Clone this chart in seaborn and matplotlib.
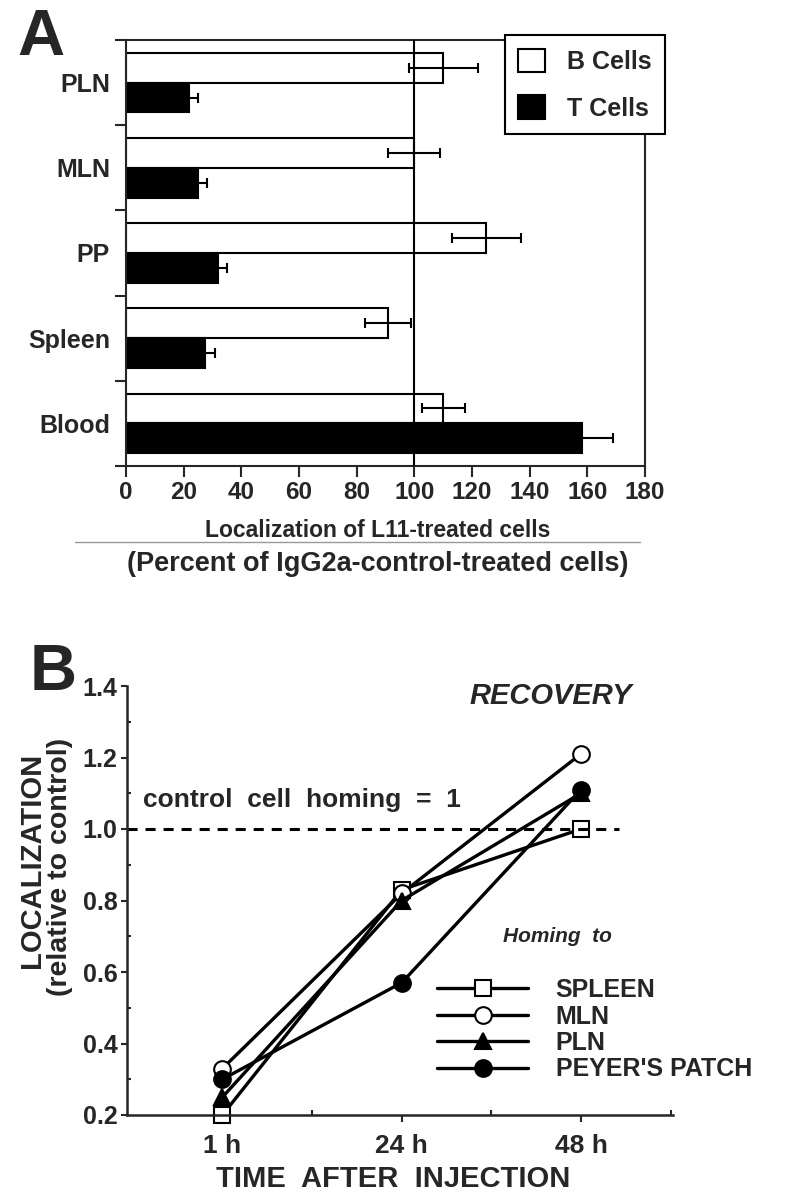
import numpy as np
import pandas as pd
import matplotlib.pyplot as plt
import seaborn as sns
from matplotlib.patches import Patch
from matplotlib.lines import Line2D

# panel A - localization of L11-treated cells (% of IgG2a control)
tissues = ['PLN', 'MLN', 'PP', 'Spleen', 'Blood']
cell_types = ['B Cells', 'T Cells']
b_cells = [110, 100, 125, 91, 110]
b_err = [12, 9, 12, 8, 7.5]
t_cells = [22, 25, 32, 27.5, 158]
t_err = [3, 3, 3, 3.5, 11]
xticks_a = list(range(0, 181, 20))

# panel B - recovery after injection
times = ['1 h', '24 h', '48 h']
homing_names = ['SPLEEN', 'MLN', 'PLN', "PEYER'S PATCH"]
spleen = [0.20, 0.83, 1.00]
mln = [0.33, 0.82, 1.21]
pln = [0.25, 0.80, 1.10]
peyers = [0.30, 0.57, 1.11]
control_level = 1.0
yticks_b = [0.2, 0.4, 0.6, 0.8, 1.0, 1.2, 1.4]

sns.set_style("ticks")
plt.rcParams['font.family'] = ['Liberation Sans', 'DejaVu Sans']
plt.rcParams['font.weight'] = 'bold'

W, H = 796, 1200
fig = plt.figure(figsize=(W / 100, H / 100), dpi=100)


def px_axes(l, t, r, b):
    return fig.add_axes([l / W, 1 - b / H, (r - l) / W, (b - t) / H])


# ---------------- panel A ----------------
axA = px_axes(126, 40, 645, 466)
dfA = pd.DataFrame({
    'tissue': tissues * 2,
    'cell': [cell_types[0]] * len(tissues) + [cell_types[1]] * len(tissues),
    'value': b_cells + t_cells,
})
sns.barplot(data=dfA, x='value', y='tissue', hue='cell', order=tissues,
            hue_order=cell_types, palette={'B Cells': 'white', 'T Cells': 'black'},
            edgecolor='black', linewidth=1.5, width=0.7, errorbar=None,
            saturation=1, legend=False, orient='h', ax=axA)

for container, errs in zip(axA.containers, [b_err, t_err]):
    xs, ys, es = [], [], []
    for bar in container:
        yc = bar.get_y() + bar.get_height() / 2
        xs.append(bar.get_width())
        ys.append(yc)
        es.append(errs[int(round(yc))])
    axA.errorbar(xs, ys, xerr=es, fmt='none', ecolor='black', elinewidth=1.5,
                 capsize=3.6, capthick=1.5, zorder=4)

axA.axvline(100, color='black', lw=1.5, zorder=3)
axA.set_xlim(0, 180)
axA.set_ylim(len(tissues) - 0.5, -0.5)
axA.set_xticks(xticks_a)
axA.set_xticklabels([str(v) for v in xticks_a])
axA.set_yticks(range(len(tissues)))
axA.set_yticklabels(tissues)
axA.set_yticks(np.arange(-0.5, len(tissues)), minor=True)
axA.tick_params(axis='x', which='major', direction='out', length=8, width=1.5, pad=3, labelsize=17.5)
axA.tick_params(axis='y', which='major', length=0, pad=11.5, labelsize=18)
axA.tick_params(axis='y', which='minor', direction='out', length=8, width=1.5)
axA.set_xlabel('')
axA.set_ylabel('')
for sp in axA.spines.values():
    sp.set_visible(True)
    sp.set_linewidth(1.5)

handlesA = [Patch(facecolor='white', edgecolor='black', lw=1.5),
            Patch(facecolor='black', edgecolor='black', lw=1.5)]
legA = axA.legend(handlesA, cell_types, loc='upper right',
                  bbox_to_anchor=(665 / W, 1 - 35 / H), bbox_transform=fig.transFigure,
                  borderaxespad=0, frameon=True, fancybox=False, framealpha=1,
                  edgecolor='black', prop={'size': 18, 'weight': 'bold'},
                  handlelength=1.08, handleheight=1.08, handletextpad=0.85,
                  labelspacing=0.85, borderpad=0.55)
legA.get_frame().set_linewidth(1.5)
legA.set_zorder(10)

fig.text(17 / W, 1 - 55 / H, 'A', fontsize=47, fontweight='bold', va='baseline')
fig.text(378 / W, 1 - 537 / H, 'Localization of L11-treated cells',
         fontsize=16.5, fontweight='bold', ha='center', va='baseline')
fig.text(378 / W, 1 - 571 / H, '(Percent of IgG2a-control-treated cells)',
         fontsize=19.5, fontweight='bold', ha='center', va='baseline')
fig.add_artist(Line2D([75 / W, 640 / W], [1 - 542 / H, 1 - 542 / H], color='0.6', lw=1))

# ---------------- panel B ----------------
axB = px_axes(127, 686, 673, 1115)
x_idx = np.arange(len(times))
series = [spleen, mln, pln, peyers]
markers = ['s', 'o', '^', 'o']
faces = ['white', 'white', 'black', 'black']
for vals, m, fc in zip(series, markers, faces):
    sns.lineplot(x=x_idx, y=vals, marker=m, markersize=12, markerfacecolor=fc,
                 markeredgecolor='black', markeredgewidth=1.5, color='black',
                 linewidth=2.4, clip_on=False, legend=False, ax=axB)
handlesB = list(axB.lines[:len(series)])

axB.hlines(control_level, -0.532, 2.21, colors='black', linestyles=(0, (3.3, 2.6)), lw=2.2)

axB.set_xlim(-0.532, 2.513)
axB.set_ylim(min(yticks_b), max(yticks_b))
axB.set_xticks(x_idx)
axB.set_xticklabels(times)
axB.set_xticks(x_idx + 0.5, minor=True)
axB.set_yticks(yticks_b)
axB.set_yticklabels([f'{v:.1f}' for v in yticks_b])
axB.set_yticks(np.array(yticks_b[:-1]) + 0.1, minor=True)
axB.tick_params(axis='x', which='major', direction='out', length=5, width=1.5, pad=9, labelsize=19)
axB.tick_params(axis='x', which='minor', direction='in', length=3.5, width=1.5)
axB.tick_params(axis='y', which='major', direction='out', length=4, width=1.5, pad=3, labelsize=18)
axB.tick_params(axis='y', which='minor', direction='in', length=3, width=1.5)
axB.set_xlabel('')
axB.set_ylabel('')
axB.spines['top'].set_visible(False)
axB.spines['right'].set_visible(False)
axB.spines['left'].set_linewidth(1.8)
axB.spines['bottom'].set_linewidth(1.8)

legB = axB.legend(handlesB, homing_names, loc='upper left',
                  bbox_to_anchor=(437 / W, 1 - 978 / H), bbox_transform=fig.transFigure,
                  frameon=False, borderaxespad=0, borderpad=0,
                  prop={'size': 18, 'weight': 'bold'}, handlelength=3.65,
                  handletextpad=1.1, labelspacing=0.1, numpoints=1)

axB.text(-0.443, 1.062, 'control  cell  homing  =  1', fontsize=19, fontweight='bold',
         va='baseline', ha='left')
fig.text(551 / W, 1 - 696 / H, 'RECOVERY', fontsize=21, fontweight='bold',
         fontstyle='italic', ha='center', va='center')
fig.text(557 / W, 1 - 937 / H, 'Homing  to', fontsize=15, fontweight='bold',
         fontstyle='italic', ha='center', va='center')
fig.text(32 / W, 1 - 860 / H, 'LOCALIZATION', fontsize=21, fontweight='bold',
         rotation=90, ha='center', va='center')
fig.text(60 / W, 1 - 867 / H, '(relative to control)', fontsize=20.5, fontweight='bold',
         rotation=90, ha='center', va='center')
fig.text(393 / W, 1 - 1179 / H, 'TIME  AFTER  INJECTION', fontsize=21, fontweight='bold',
         ha='center', va='center')
fig.text(30 / W, 1 - 690 / H, 'B', fontsize=47, fontweight='bold', va='baseline')

fig.savefig('out.png', dpi=100)
